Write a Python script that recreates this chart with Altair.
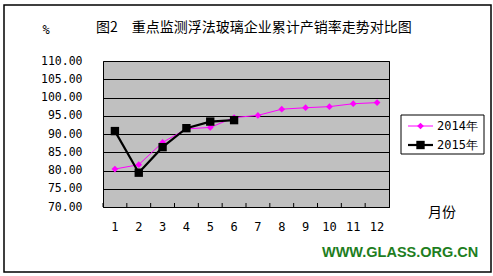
import altair as alt
import pandas as pd

months = list(range(1, 13))
series_names = ["2014年", "2015年"]
v2014 = [80.4, 81.6, 87.7, 91.4, 91.8, 94.5, 95.1, 96.8, 97.2, 97.5, 98.3, 98.6]
v2015 = [90.8, 79.4, 86.4, 91.6, 93.4, 93.8]
y_ticks = [70, 75, 80, 85, 90, 95, 100, 105, 110]

title_text = "图2　重点监测浮法玻璃企业累计产销率走势对比图"
unit_text = "%"
xaxis_text = "月份"
watermark = "WWW.GLASS.ORG.CN"

colors = ["#FF00FF", "#000000"]
line_widths = [1, 2.2]
marker_shapes = ["diamond", "square"]
marker_sizes = [45, 70]

rows = []
for m, v in zip(months, v2014):
    rows.append({"month": m, "value": v, "series": series_names[0]})
for m, v in zip(months, v2015):
    rows.append({"month": m, "value": v, "series": series_names[1]})
df = pd.DataFrame(rows)
months_df = pd.DataFrame({"month": months})
one_df = pd.DataFrame({"k": [0]})
leg_df = pd.DataFrame({"series": series_names})

W, H = 286, 146
mono = "DejaVu Sans Mono"
cjk = "Noto Sans CJK SC"

xscale = alt.Scale(type="band", paddingInner=0, paddingOuter=0, domain=months)
yscale = alt.Scale(domain=[70, 110], nice=False, zero=False)

x_axis = alt.Axis(title=None, labelAngle=0, ticks=False, domain=True,
                  domainColor="black", labelFont=mono, labelFontSize=12,
                  labelColor="black", labelPadding=14, grid=False)
y_axis = alt.Axis(title=None, values=y_ticks, format=".2f", ticks=False,
                  domain=False, grid=True, gridColor="black", gridOpacity=1,
                  gridWidth=1, labelFont=mono, labelFontSize=11.5,
                  labelColor="black", labelPadding=21)

x_enc = alt.X("month:O", scale=xscale, sort=months, axis=x_axis)

col = alt.Color("series:N", scale=alt.Scale(domain=series_names, range=colors), legend=None)
sw = alt.StrokeWidth("series:N", scale=alt.Scale(domain=series_names, range=line_widths), legend=None)
shp = alt.Shape("series:N", scale=alt.Scale(domain=series_names, range=marker_shapes), legend=None)
sz = alt.Size("series:N", scale=alt.Scale(domain=series_names, range=marker_sizes), legend=None)

frame = alt.Chart(one_df).mark_rect(fill=None, stroke="black", strokeWidth=1.5).encode(
    x=alt.value(-99), x2=alt.value(388), y=alt.value(-56), y2=alt.value(211))

inner_ticks = alt.Chart(months_df).mark_rule(color="black", strokeWidth=1).encode(
    x=alt.X("month:O", scale=xscale, sort=months, bandPosition=0, axis=x_axis),
    y=alt.value(H - 4), y2=alt.value(H))

lines = alt.Chart(df).mark_line().encode(
    x=x_enc, y=alt.Y("value:Q", scale=yscale, axis=y_axis), color=col, strokeWidth=sw)

points = alt.Chart(df).mark_point(filled=True, opacity=1).encode(
    x=x_enc, y=alt.Y("value:Q", scale=yscale, axis=None), color=col, shape=shp, size=sz)

# legend drawn from the series list
leg_y = alt.Y("series:N", scale=alt.Scale(type="point", domain=series_names, range=[65, 84], padding=0),
              axis=None)
leg_box = alt.Chart(one_df).mark_rect(fill="white", stroke="black", strokeWidth=1).encode(
    x=alt.value(298), x2=alt.value(381), y=alt.value(54), y2=alt.value(93))
leg_line = alt.Chart(leg_df).mark_rule().encode(
    x=alt.value(305), x2=alt.value(330), y=leg_y, color=col, strokeWidth=sw)
leg_pt = alt.Chart(leg_df).mark_point(filled=True, opacity=1).encode(
    x=alt.value(317.5), y=leg_y, color=col, shape=shp, size=sz)
leg_txt = alt.Chart(leg_df).mark_text(align="left", baseline="middle", font=mono, fontSize=12,
                                      color="black").encode(
    x=alt.value(334), y=leg_y, text="series:N")

title = alt.Chart(one_df).mark_text(align="left", baseline="middle", font=cjk, fontSize=14,
                                    color="black").encode(
    x=alt.value(-7), y=alt.value(-33), text=alt.value(title_text))
unit = alt.Chart(one_df).mark_text(align="center", baseline="middle", font=mono, fontSize=12,
                                   color="black").encode(
    x=alt.value(-57), y=alt.value(-31), text=alt.value(unit_text))
xlab = alt.Chart(one_df).mark_text(align="center", baseline="middle", font=cjk, fontSize=14,
                                   color="black").encode(
    x=alt.value(339), y=alt.value(152), text=alt.value(xaxis_text))
wm = alt.Chart(one_df).mark_text(align="left", baseline="middle", font="Liberation Sans",
                                 fontSize=14.5, fontWeight="bold", color="#1E7E1E").encode(
    x=alt.value(219), y=alt.value(192), text=alt.value(watermark))

chart = alt.layer(frame, inner_ticks, lines, points, leg_box, leg_line, leg_pt, leg_txt,
                  title, unit, xlab, wm).resolve_scale(
    y="independent"
).properties(
    width=W, height=H,
    autosize=alt.AutoSizeParams(type="none"),
    padding={"left": 103, "top": 61, "right": 104, "bottom": 69},
    background="white",
).configure_view(fill="#C0C0C0", stroke="black", strokeWidth=1)

chart.save("out.html", embed_options={"renderer": "svg", "actions": False})
